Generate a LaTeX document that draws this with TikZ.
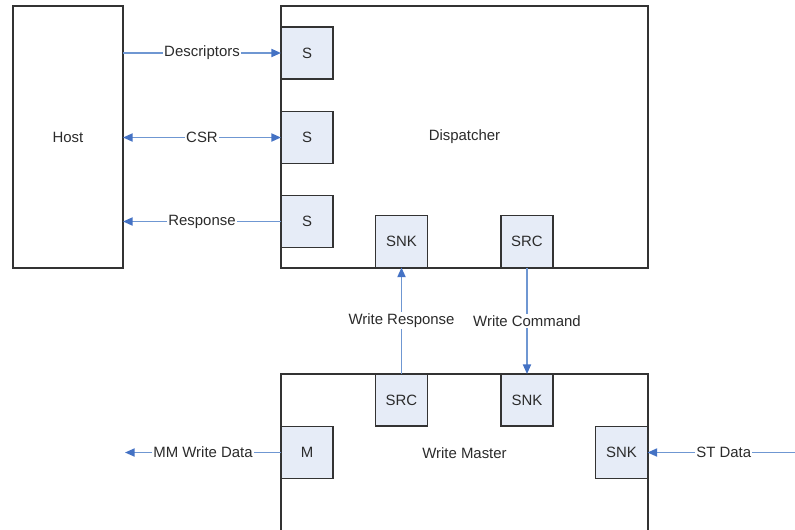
\documentclass[tikz,border=0pt]{standalone}
\usepackage{fontspec}
\setmainfont{Liberation Sans}
\usepackage{xcolor}
\usepackage{tikz}
\usetikzlibrary{arrows.meta,positioning,calc}
\definecolor{boxline}{HTML}{333333}
\definecolor{portfill}{HTML}{E6ECF7}
\definecolor{wire}{HTML}{6F97D2}
\definecolor{wirehead}{HTML}{4472C4}
\definecolor{ink}{HTML}{2B2B2B}
\tikzset{
    every picture/.style={line join=miter},
    block/.style={draw=boxline,fill=white,line width=1.1pt,
      inner sep=0pt,outer sep=0pt,text=ink},
    port/.style={draw=boxline,fill=portfill,line width=1.1pt,
      minimum width=1.04cm,minimum height=1.04cm,inner sep=0pt,outer sep=0pt,
      text=ink},
    flowarrow/.style={-{Triangle[length=5.5pt,width=4.6pt,color=wirehead]},
      draw=wire,line width=1pt},
    flowboth/.style={{Triangle[length=5.5pt,width=4.6pt,color=wirehead]}-{Triangle[length=5.5pt,width=4.6pt,color=wirehead]},
      draw=wire,line width=1pt},
    edgelabel/.style={fill=white,inner xsep=0.5pt,inner ysep=1pt,text=ink,
      font=\fontsize{8.5}{10}\selectfont}
}

\begin{document}
\begin{tikzpicture}[x=0.02cm,y=-0.02cm,font=\fontsize{8.5}{10}\selectfont]
  \clip (0,0) rectangle (795,529);
  % main blocks
  \node[block,minimum width=2.2cm,minimum height=5.24cm] (host) at (68,137) {Host};
  \node[block,minimum width=7.34cm,minimum height=5.24cm] (disp) at (464.5,137) {Dispatcher};
  \node[block,minimum width=7.34cm,minimum height=3.16cm] (wm) at (464.5,453) {Write Master};
  % dispatcher ports
  \foreach \n/\y in {1/53,2/137.5,3/221.5} {
    \node[port] (s\n) at (307,\y) {S};
  }
  \node[port] (dsnk) at (401.5,241.5) {SNK};
  \node[port] (dsrc) at (527,241.5) {SRC};
  % write master ports
  \node[port] (wsrc) at (401.5,400) {SRC};
  \node[port] (wsnk) at (527,400) {SNK};
  \node[port] (mport) at (307,452.5) {M};
  \node[port] (stsnk) at (621.5,452.5) {SNK};
  \coordinate (mmend) at (125,452.5);
  \coordinate (ststart) at (800,452.5);
  % connections
  \draw[flowarrow] (s1 -| host.east) -- node[edgelabel] {Descriptors} (s1.west);
  \draw[flowboth] (s2 -| host.east) -- node[edgelabel] {CSR} (s2.west);
  \draw[flowarrow] (s3.west) -- node[edgelabel] {Response} (s3 -| host.east);
  \draw[flowarrow] (wsrc.north) -- node[edgelabel] {Write Response} (dsnk.south);
  \draw[flowarrow] (dsrc.south) -- node[edgelabel] {Write Command} (wsnk.north);
  \draw[flowarrow] (mport.west) -- node[edgelabel] {MM Write Data} (mmend);
  \draw[flowarrow] (ststart) -- node[edgelabel] {ST Data} (stsnk.east);
\end{tikzpicture}
\end{document}
